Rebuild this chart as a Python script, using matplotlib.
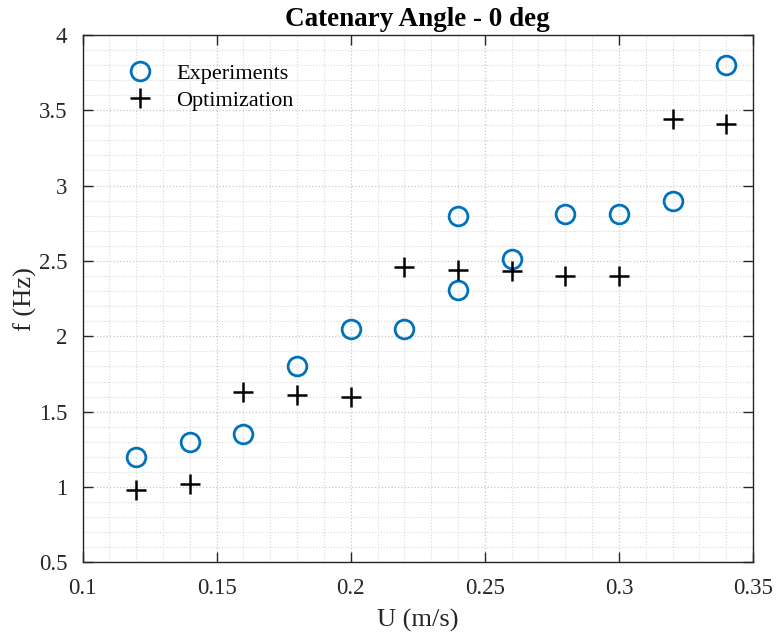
import matplotlib
matplotlib.use("Agg")
import matplotlib.pyplot as plt
from matplotlib.ticker import MultipleLocator

plt.rcParams['font.family'] = ['Liberation Serif', 'DejaVu Serif']

u_exp = [0.12, 0.14, 0.16, 0.18, 0.20, 0.22, 0.24, 0.24, 0.26, 0.28, 0.30, 0.32, 0.34]
f_exp = [1.20, 1.30, 1.35, 1.80, 2.05, 2.05, 2.80, 2.31, 2.51, 2.81, 2.81, 2.90, 3.80]

u_opt = [0.12, 0.14, 0.16, 0.18, 0.20, 0.22, 0.24, 0.26, 0.28, 0.30, 0.32, 0.34]
f_opt = [0.98, 1.02, 1.63, 1.61, 1.60, 2.46, 2.44, 2.43, 2.40, 2.40, 3.44, 3.41]

x_ticks = [0.1, 0.15, 0.2, 0.25, 0.3, 0.35]
x_labels = ['0.1', '0.15', '0.2', '0.25', '0.3', '0.35']
y_ticks = [0.5, 1, 1.5, 2, 2.5, 3, 3.5, 4]
y_labels = ['0.5', '1', '1.5', '2', '2.5', '3', '3.5', '4']

fig = plt.figure(figsize=(7.77, 6.36), dpi=100)
ax = fig.add_axes([0.1062, 0.1156, 0.8629, 0.8298])

ax.plot(u_exp, f_exp, linestyle='none', marker='o', markersize=13.5, markeredgewidth=2,
        markerfacecolor='none', markeredgecolor='#0072BD', label='Experiments')
ax.plot(u_opt, f_opt, linestyle='none', marker='+', markersize=15, markeredgewidth=1.8,
        color='black', label='Optimization')

ax.set_xlim(0.1, 0.35)
ax.set_ylim(0.5, 4)
ax.set_xticks(x_ticks)
ax.set_xticklabels(x_labels)
ax.set_yticks(y_ticks)
ax.set_yticklabels(y_labels)
ax.xaxis.set_minor_locator(MultipleLocator(0.01))
ax.yaxis.set_minor_locator(MultipleLocator(0.1))

ax.grid(True, which='major', linestyle=':', color='#c8c8c8', linewidth=0.9)
ax.grid(True, which='minor', linestyle=':', color='#d8d8d8', linewidth=0.8)
ax.set_axisbelow(True)

ax.tick_params(which='major', direction='in', length=7, width=1, top=True, right=True,
               labelsize=16.5, colors='#262626', pad=11)
ax.tick_params(which='minor', length=0, top=False, right=False)
for s in ax.spines.values():
    s.set_color('#262626')
    s.set_linewidth(1)

ax.set_xlabel('U (m/s)', fontsize=19, color='#262626', labelpad=7)
ax.set_ylabel('f (Hz)', fontsize=19, color='#262626', labelpad=1)
ax.set_title('Catenary Angle - 0 deg', fontsize=19.5, fontweight='bold', pad=6)

ax.legend(loc='upper left', frameon=False, fontsize=16, bbox_to_anchor=(0.040, 0.963),
          handletextpad=0.6, labelspacing=0.3, borderaxespad=0)

fig.savefig('out.png', dpi=100)
